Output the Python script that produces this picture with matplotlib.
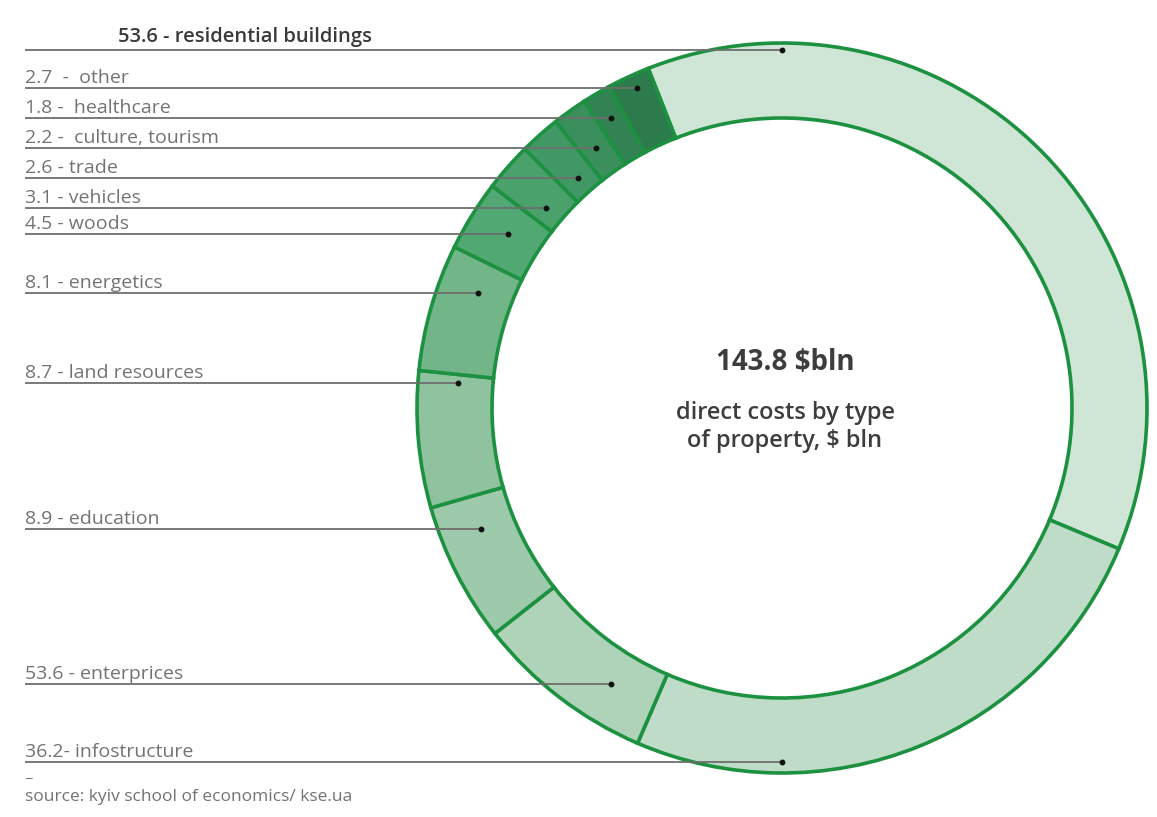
import numpy as np
import matplotlib
matplotlib.use('Agg')
import matplotlib.pyplot as plt

# ----------------- Data -----------------

# wedges in clockwise order, starting from residential buildings
categories = ["residential buildings", "infostructure", "enterprices", "education",
              "land resources", "energetics", "woods", "vehicles", "trade",
              "culture, tourism", "healthcare", "other"]
values = [53.6, 36.2, 11.4, 8.9, 8.7, 8.1, 4.5, 3.1, 2.6, 2.2, 1.8, 2.7]
label_texts = ["53.6 - residential buildings", "36.2- infostructure", "53.6 - enterprices",
               "8.9 - education", "8.7 - land resources", "8.1 - energetics",
               "4.5 - woods", "3.1 - vehicles", "2.6 - trade", "2.2 -  culture, tourism",
               "1.8 -  healthcare", "2.7  -  other"]
total_bln = 143.8

# ----------------- Layout (pixels, y pointing down) -----------------

W, H = 1157, 817
CX, CY = 782, 408
R_OUT, R_IN = 365, 290
START = -21.5  # degrees clockwise from 12 o'clock

# underline (leader) y for each label, same order as categories
line_y = [50, 762, 684, 529, 383, 293, 234, 208, 178, 148, 118, 88]
text_x = [118, 25, 25, 25, 25, 25, 25, 25, 25, 25, 25, 25]

colors = ["#cfe5d5", "#bfdcc8", "#aed3b9", "#9dcaab", "#8fc29f", "#72b589",
          "#52a873", "#4aa16b", "#429864", "#3b8f5d", "#338253", "#2d7a4c"]
edge = "#1c9140"


def dot_for(y, a0, a1):
    """Pick a point inside wedge [a0, a1] lying on the horizontal line y."""
    th = np.radians(np.linspace(a0 + 1.0, a1 - 1.0, 4000))
    c = np.cos(th)
    with np.errstate(divide='ignore', invalid='ignore'):
        r = (CY - y) / c
    for pad in (8, 5, 2, 0):
        idx = np.where((r >= R_IN + pad) & (r <= R_OUT - pad))[0]
        if len(idx):
            k = idx[len(idx) // 2]
            return CX + r[k] * np.sin(th[k])
    return CX


fig = plt.figure(figsize=(W / 100, H / 100), dpi=100)
ax = fig.add_axes([0, 0, 1, 1])

# donut, drawn in data coords with y up (data y = H - pixel y)
ax.pie(values, radius=R_OUT, center=(CX, H - CY), startangle=90 - START,
       counterclock=False, colors=colors,
       wedgeprops=dict(width=R_OUT - R_IN, edgecolor=edge, linewidth=2.6))

ax.set_xlim(0, W)
ax.set_ylim(0, H)
ax.set_aspect('equal')
ax.axis('off')

# wedge angle ranges (clockwise from top)
bounds = START + np.concatenate([[0], np.cumsum(values)]) / sum(values) * 360

for i, txt in enumerate(label_texts):
    y = line_y[i]
    xd = dot_for(y, bounds[i], bounds[i + 1])
    ax.plot([25, xd], [H - y, H - y], color="#6e6e6e", lw=1.3, solid_capstyle='butt', zorder=5)
    ax.plot(xd, H - y, 'o', color="#111111", ms=3.2, zorder=6)
    if i == 0:
        ax.text(text_x[i], H - y + 3, txt, fontsize=14.5, fontweight='semibold',
                family='Open Sans', color="#3a3a3a", va='bottom', ha='left')
    else:
        ax.text(text_x[i], H - y + 1, txt, fontsize=14, family='Open Sans',
                color="#737373", va='bottom', ha='left')

# centre caption
ax.text(CX + 3, H - 362, f"{total_bln} $bln", fontsize=20, fontweight='bold',
        family='Open Sans', color="#3d3d3d", ha='center', va='center')
ax.text(CX + 3, H - 427, "direct costs by type\nof property, $ bln", fontsize=17,
        fontweight='semibold', family='Open Sans', color="#3d3d3d",
        ha='center', va='center', linespacing=1.2)

# source note
ax.text(25, H - 766, "_", fontsize=11, family='Open Sans', color="#737373", va='top')
ax.text(25, H - 797, "source: kyiv school of economics/ kse.ua", fontsize=12.5,
        family='Open Sans', color="#737373", va='center')

fig.savefig("out.png", dpi=100)
